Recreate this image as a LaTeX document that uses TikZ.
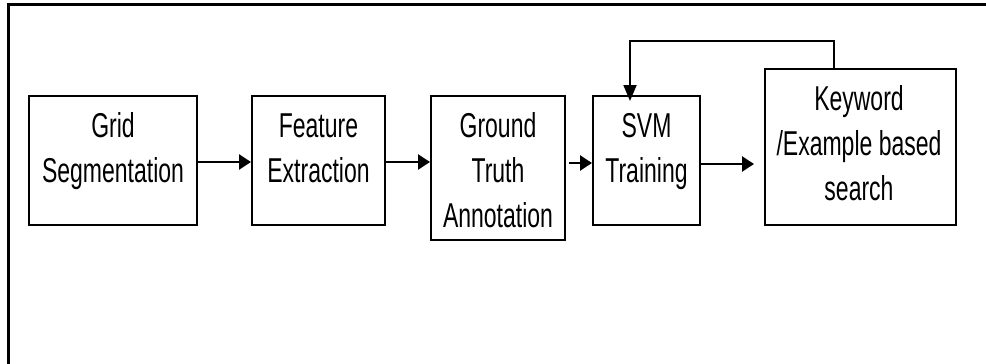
\documentclass[tikz,border=0pt]{standalone}
\usepackage{fontspec}
\setmainfont{Liberation Sans}
\usetikzlibrary{arrows.meta}
\newcommand\boxlbl[1]{\scalebox{1}[1.5]{\begin{tabular}[t]{@{}c@{}}#1\end{tabular}}}
\begin{document}
\begin{tikzpicture}[x=1pt,y=-1pt,
  blk/.style={draw, line width=2pt, inner sep=0pt},
  txt/.style={inner sep=0pt, anchor=base, font=\fontsize{23}{30}\selectfont},
  arr/.style={line width=2.4pt, -{Triangle[length=12pt,width=15pt]}},
  fbarr/.style={line width=1.8pt, -{Triangle[length=16pt,width=13pt]}},
  frame/.style={line width=2.5pt}]
\useasboundingbox (0,0) rectangle (986,364);
% partial outer frame
\coordinate (fbl) at (8.5,366);
\coordinate (ftl) at (8.5,4.5);
\coordinate (ftr) at (988,4.5);
\draw[frame] (fbl) -- (ftl) -- (ftr);
% boxes
\node[blk, minimum width=168pt, minimum height=129pt] (b1) at (113,160.5) {};
\node[blk, minimum width=133pt, minimum height=129pt] (b2) at (318.5,160.5) {};
\node[blk, minimum width=134pt, minimum height=144pt] (b3) at (498,168) {};
\node[blk, minimum width=107pt, minimum height=129pt] (b4) at (646.5,160.5) {};
\node[blk, minimum width=191pt, minimum height=156pt] (b5) at (860.5,147) {};
% labels
\node[txt] (t1) at (113,137) {\boxlbl{Grid\\Segmentation}};
\node[txt] (t2) at (318.5,137) {\boxlbl{Feature\\Extraction}};
\node[txt] (t3) at (498,137) {\boxlbl{Ground\\Truth\\Annotation}};
\node[txt] (t4) at (646.5,137) {\boxlbl{SVM\\Training}};
\node[txt] (t5) at (859,110) {\boxlbl{Keyword\\/Example based\\search}};
% connectors
\draw[arr] (b1.east |- 0,162) -- (b2.west |- 0,162);
\draw[arr] (b2.east |- 0,162) -- (b3.west |- 0,162);
\coordinate (a3s) at (569,163);
\draw[arr] (a3s) -- (b4.west |- 0,163);
\coordinate (a4e) at (754,164);
\draw[arr] (b4.east |- 0,164) -- (a4e);
\coordinate (fbk) at (834,41);
\coordinate (fbt) at (630,101);
\draw[fbarr] (b5.north -| fbk) -- (fbk) -- (630,41) -- (fbt);
\end{tikzpicture}
\end{document}
